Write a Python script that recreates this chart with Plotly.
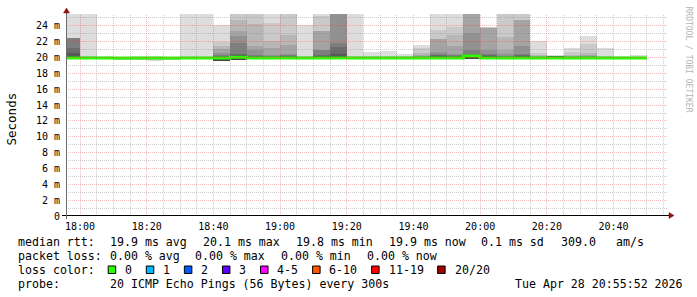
import plotly.graph_objects as go
import pandas as pd
import math

# ---------------- data ----------------
# end time of each 300 s SmokePing step
step_first_end = "2026-04-28 18:00:00"
step_seconds = 300
n_steps = 35

# median rtt per step (ms)
median_ms = [19.95, 19.95, 19.95, 19.95, 19.95, 19.95, 19.95, 19.95, 19.95, 19.95,
             20.05, 19.95, 19.95, 19.95, 19.95, 19.95, 19.95, 19.95, 19.95, 19.95,
             19.95, 19.95, 19.95, 19.95, 20.2, 19.95, 19.95, 19.95, 19.95, 19.95,
             19.95, 19.95, 19.95, 19.95, 19.95]

# upper half of the 20 sorted pings per step: p20, p19, ..., p11 (ms)
ping_hi = [
    [26.0, 22.45, 22.45, 22.45, 22.45, 22.45, 21.2, 20.6, 20.2, 20.1],
    [26.0, 20.2, 20.15, 20.1, 20.1, 20.05, 20.05, 20.0, 20.0, 19.95],
    [20.15, 20.1, 20.1, 20.05, 20.05, 20.0, 20.0, 20.0, 19.95, 19.95],
    [20.1, 20.05, 20.05, 20.0, 20.0, 20.0, 19.95, 19.95, 19.95, 19.9],
    [20.2, 20.1, 20.05, 20.05, 20.0, 20.0, 20.0, 19.95, 19.95, 19.95],
    [20.25, 20.1, 20.05, 20.05, 20.0, 20.0, 20.0, 19.95, 19.95, 19.95],
    [20.1, 20.05, 20.05, 20.0, 20.0, 20.0, 19.95, 19.95, 19.95, 19.9],
    [26.0, 20.2, 20.1, 20.1, 20.05, 20.05, 20.0, 20.0, 19.95, 19.95],
    [26.0, 20.2, 20.1, 20.1, 20.05, 20.05, 20.0, 20.0, 19.95, 19.95],
    [24.1, 22.0, 21.5, 21.05, 20.6, 20.3, 20.2, 20.15, 20.1, 20.05],
    [26.0, 26.0, 24.75, 23.4, 22.7, 21.8, 20.5, 20.3, 20.2, 20.15],
    [26.0, 26.0, 24.2, 21.5, 20.9, 20.3, 20.2, 20.15, 20.1, 20.05],
    [26.0, 24.35, 22.15, 21.15, 20.3, 20.2, 20.15, 20.1, 20.05, 20.0],
    [26.0, 26.0, 22.85, 21.55, 20.5, 20.3, 20.2, 20.15, 20.1, 20.05],
    [24.1, 20.2, 20.15, 20.1, 20.1, 20.05, 20.05, 20.0, 20.0, 19.95],
    [26.0, 25.2, 23.4, 23.4, 21.0, 21.0, 20.35, 20.25, 20.15, 20.1],
    [27.0, 27.0, 27.0, 27.0, 27.0, 21.8, 21.3, 20.4, 20.2, 20.1],
    [26.0, 20.2, 20.15, 20.1, 20.1, 20.05, 20.05, 20.0, 20.0, 19.95],
    [20.7, 20.2, 20.15, 20.1, 20.1, 20.05, 20.05, 20.0, 20.0, 19.95],
    [20.8, 20.25, 20.15, 20.1, 20.1, 20.05, 20.05, 20.0, 20.0, 19.95],
    [20.5, 20.2, 20.15, 20.1, 20.1, 20.05, 20.05, 20.0, 20.0, 19.95],
    [21.6, 21.25, 20.6, 20.3, 20.2, 20.15, 20.1, 20.1, 20.05, 20.0],
    [26.0, 23.5, 22.4, 22.3, 20.7, 20.4, 20.3, 20.2, 20.15, 20.1],
    [26.0, 23.9, 22.85, 21.4, 20.5, 20.3, 20.2, 20.15, 20.1, 20.05],
    [27.0, 27.0, 27.0, 27.0, 23.1, 21.0, 20.4, 20.3, 20.25, 20.2],
    [23.8, 23.8, 23.75, 23.7, 21.0, 20.5, 20.3, 20.2, 20.15, 20.1],
    [26.0, 26.0, 22.65, 21.0, 20.4, 20.2, 20.15, 20.1, 20.05, 20.0],
    [26.0, 26.0, 24.75, 24.7, 21.5, 20.5, 20.3, 20.2, 20.15, 20.1],
    [22.1, 20.6, 20.3, 20.2, 20.15, 20.1, 20.1, 20.05, 20.0, 20.0],
    [20.35, 20.25, 20.2, 20.2, 20.2, 20.2, 20.2, 20.15, 20.15, 20.1],
    [21.15, 20.75, 20.3, 20.2, 20.15, 20.1, 20.1, 20.05, 20.0, 20.0],
    [22.75, 21.7, 20.55, 20.3, 20.2, 20.15, 20.1, 20.1, 20.05, 20.0],
    [21.25, 20.2, 20.15, 20.1, 20.1, 20.05, 20.05, 20.0, 20.0, 19.95],
    [20.2, 20.1, 20.1, 20.05, 20.05, 20.0, 20.0, 20.0, 19.95, 19.95],
    [20.3, 20.15, 20.1, 20.05, 20.05, 20.0, 20.0, 20.0, 19.95, 19.95],
]

# lower half of the 20 sorted pings per step: p1, p2, ..., p10 (ms)
ping_lo = [
    [19.8, 19.8, 19.8, 19.85, 19.85, 19.85, 19.9, 19.9, 19.9, 19.9],
    [19.8, 19.8, 19.8, 19.85, 19.85, 19.85, 19.9, 19.9, 19.9, 19.9],
    [19.8, 19.8, 19.8, 19.85, 19.85, 19.85, 19.9, 19.9, 19.9, 19.9],
    [19.8, 19.8, 19.8, 19.85, 19.85, 19.85, 19.9, 19.9, 19.9, 19.9],
    [19.8, 19.8, 19.8, 19.85, 19.85, 19.85, 19.9, 19.9, 19.9, 19.9],
    [19.6, 19.8, 19.8, 19.85, 19.85, 19.85, 19.9, 19.9, 19.9, 19.9],
    [19.8, 19.8, 19.8, 19.85, 19.85, 19.85, 19.9, 19.9, 19.9, 19.9],
    [19.8, 19.8, 19.8, 19.85, 19.85, 19.85, 19.9, 19.9, 19.9, 19.9],
    [19.8, 19.8, 19.8, 19.85, 19.85, 19.85, 19.9, 19.9, 19.9, 19.9],
    [19.6, 19.6, 19.6, 19.6, 19.6, 19.6, 19.6, 19.6, 19.6, 19.9],
    [19.65, 19.65, 19.65, 19.65, 19.65, 19.65, 19.65, 19.65, 19.65, 19.95],
    [19.8, 19.8, 19.8, 19.85, 19.85, 19.85, 19.9, 19.9, 19.9, 19.9],
    [19.8, 19.8, 19.8, 19.85, 19.85, 19.85, 19.9, 19.9, 19.9, 19.9],
    [19.8, 19.8, 19.8, 19.85, 19.85, 19.85, 19.9, 19.9, 19.9, 19.9],
    [19.8, 19.8, 19.8, 19.85, 19.85, 19.85, 19.9, 19.9, 19.9, 19.9],
    [19.8, 19.8, 19.8, 19.85, 19.85, 19.85, 19.9, 19.9, 19.9, 19.9],
    [19.8, 19.8, 19.8, 19.85, 19.85, 19.85, 19.9, 19.9, 19.9, 19.9],
    [19.8, 19.8, 19.8, 19.85, 19.85, 19.85, 19.9, 19.9, 19.9, 19.9],
    [19.8, 19.8, 19.8, 19.85, 19.85, 19.85, 19.9, 19.9, 19.9, 19.9],
    [19.8, 19.8, 19.8, 19.85, 19.85, 19.85, 19.9, 19.9, 19.9, 19.9],
    [19.8, 19.8, 19.8, 19.85, 19.85, 19.85, 19.9, 19.9, 19.9, 19.9],
    [19.8, 19.8, 19.8, 19.85, 19.85, 19.85, 19.9, 19.9, 19.9, 19.9],
    [19.8, 19.8, 19.8, 19.85, 19.85, 19.85, 19.9, 19.9, 19.9, 19.9],
    [19.8, 19.8, 19.8, 19.85, 19.85, 19.85, 19.9, 19.9, 19.9, 19.9],
    [19.8, 19.8, 19.8, 19.8, 19.8, 19.8, 19.8, 19.8, 19.8, 20.1],
    [19.8, 19.8, 19.8, 19.85, 19.85, 19.85, 19.9, 19.9, 19.9, 19.9],
    [19.8, 19.8, 19.8, 19.85, 19.85, 19.85, 19.9, 19.9, 19.9, 19.9],
    [19.8, 19.8, 19.8, 19.85, 19.85, 19.85, 19.9, 19.9, 19.9, 19.9],
    [19.8, 19.8, 19.8, 19.85, 19.85, 19.85, 19.9, 19.9, 19.9, 19.9],
    [19.8, 19.8, 19.8, 19.85, 19.85, 19.85, 19.9, 19.9, 19.9, 19.9],
    [19.8, 19.8, 19.8, 19.85, 19.85, 19.85, 19.9, 19.9, 19.9, 19.9],
    [19.8, 19.8, 19.8, 19.85, 19.85, 19.85, 19.9, 19.9, 19.9, 19.9],
    [19.8, 19.8, 19.8, 19.85, 19.85, 19.85, 19.9, 19.9, 19.9, 19.9],
    [19.8, 19.8, 19.8, 19.85, 19.85, 19.85, 19.9, 19.9, 19.9, 19.9],
    [19.8, 19.8, 19.8, 19.85, 19.85, 19.85, 19.9, 19.9, 19.9, 19.9],
]

y_tick_vals = [0, 2, 4, 6, 8, 10, 12, 14, 16, 18, 20, 22, 24]
x_tick_labels = ["18:00", "18:20", "18:40", "19:00", "19:20", "19:40", "20:00", "20:20", "20:40"]

loss_labels = ["0", "1", "2", "3", "4-5", "6-10", "11-19", "20/20"]
loss_colors = ["#26ff00", "#00b8ff", "#0059ff", "#5e00ff", "#ff00ff", "#ff5500", "#ff0000", "#a00000"]

# legend items: (text, left pixel) per row
legend_rows = [
    [("median rtt:", 16), ("19.9 ms avg", 107.7), ("20.1 ms max", 201), ("19.8 ms min", 294),
     ("19.9 ms now", 386.7), ("0.1 ms sd", 479.3), ("309.0", 558.7), ("am/s", 614.3)],
    [("packet loss:", 16), ("0.00 % avg", 107.7), ("0.00 % max", 193.3), ("0.00 % min", 279.3),
     ("0.00 % now", 365)],
    [("loss color:", 16)],
    [("probe:", 16), ("20 ICMP Echo Pings (56 Bytes) every 300s", 107.7),
     ("Tue Apr 28 20:55:52 2026", 513.3)],
]
y_title = "Seconds"
side_text = "RRDTOOL / TOBI OETIKER"

# ---------------- layout geometry ----------------
FIG_W, FIG_H = 697, 297
L, T, W, H = 66, 14, 602, 202
X0 = pd.Timestamp("2026-04-28 17:55:48")
X1 = pd.Timestamp("2026-04-28 20:56:20")
Y0, Y1 = 0.0, 25.5
MONO = "DejaVu Sans Mono"
LEG_SIZE = 11.6
CW = LEG_SIZE * 0.602


def px(x):
    return (x - L) / W


def py(y):
    return (T + H - y) / H


def snap_y(v):
    yp = (Y1 - v) / (Y1 - Y0) * H
    yp = math.floor(yp) + 0.5
    return Y1 - yp * (Y1 - Y0) / H


def snap_x(t):
    span = (X1 - X0).total_seconds()
    xp = (t - X0).total_seconds() / span * W
    xp = math.floor(xp) + 0.5
    return X0 + pd.Timedelta(seconds=xp * span / W)


ends = pd.date_range(step_first_end, periods=n_steps, freq=f"{step_seconds}s")
centers = ends - pd.Timedelta(seconds=step_seconds / 2)
starts = ends - pd.Timedelta(seconds=step_seconds)

fig = go.Figure()

# smoke: pair k spans ping k .. ping 21-k, inner pairs darker
for k in range(10):
    shade = int(190 / 10 * (10 - (k + 1))) + 50
    col = "#" + ("%02x" % shade) * 3
    base = [ping_lo[c][k] for c in range(n_steps)]
    height = [ping_hi[c][k] - ping_lo[c][k] for c in range(n_steps)]
    fig.add_trace(go.Bar(x=centers, y=height, base=base, width=step_seconds * 1000,
                         marker=dict(color=col, line=dict(width=0)),
                         showlegend=False, hoverinfo="skip"))

# median line
fig.add_trace(go.Scatter(x=list(starts) + [ends[-1]], y=median_ms + [median_ms[-1]],
                         mode="lines", line=dict(color=loss_colors[0], width=3, shape="hv"),
                         showlegend=False, hoverinfo="skip"))

MAJ = "rgba(215,50,50,0.32)"
MIN = "rgba(130,130,130,0.40)"
shapes = []
# grid (drawn above the data like rrdtool)
for v in range(1, 26):
    major = v % 2 == 0
    yv = snap_y(v)
    shapes.append(dict(type="line", xref="paper", yref="y", x0=0, x1=1, y0=yv, y1=yv,
                       layer="above",
                       line=dict(color=MAJ if major else MIN, width=1, dash="1px,1px")))
grid_times = pd.date_range("2026-04-28 18:00:00", "2026-04-28 20:55:00", freq="5min")
for t in grid_times:
    major = t.minute % 20 == 0
    xv = snap_x(t)
    shapes.append(dict(type="line", xref="x", yref="paper", x0=xv, x1=xv, y0=0, y1=1,
                       layer="above",
                       line=dict(color=MAJ if major else MIN, width=1, dash="1px,1px")))

# axes lines and arrows
shapes.append(dict(type="line", xref="paper", yref="paper", x0=px(62), x1=px(670),
                   y0=py(215.5), y1=py(215.5), layer="above", line=dict(color="#000000", width=1)))
shapes.append(dict(type="line", xref="paper", yref="paper", x0=px(66.5), x1=px(66.5),
                   y0=py(219), y1=py(12), layer="above", line=dict(color="#6a6a6a", width=1)))
arrow_col = "#8b1010"
shapes.append(dict(type="path", xref="paper", yref="paper", layer="above",
                   path=f"M {px(669)} {py(212.5)} L {px(674)} {py(215.5)} L {px(669)} {py(218.5)} Z",
                   fillcolor=arrow_col, line=dict(color=arrow_col, width=0.5)))
shapes.append(dict(type="path", xref="paper", yref="paper", layer="above",
                   path=f"M {px(63.5)} {py(13)} L {px(66.5)} {py(8)} L {px(69.5)} {py(13)} Z",
                   fillcolor=arrow_col, line=dict(color=arrow_col, width=0.5)))

annotations = []


def nb(s):
    return s.replace(" ", "\u00a0")


row_y = [241.7, 255.7, 269.5, 283.5]
for items, yy in zip(legend_rows, row_y):
    for txt, xx in items:
        annotations.append(dict(text=nb(txt), xref="paper", yref="paper", x=px(xx), y=py(yy),
                                xanchor="left", yanchor="middle", showarrow=False,
                                font=dict(family=MONO, size=LEG_SIZE, color="#000000")))

sx = 107.7
for lab, col in zip(loss_labels, loss_colors):
    shapes.append(dict(type="rect", xref="paper", yref="paper", x0=px(sx + 0.5), x1=px(sx + 8),
                       y0=py(266), y1=py(273.5), fillcolor=col, layer="above",
                       line=dict(color="#000000", width=1)))
    lx = sx + 15.4
    annotations.append(dict(text=nb(lab), xref="paper", yref="paper", x=px(lx), y=py(row_y[2]),
                            xanchor="left", yanchor="middle", showarrow=False,
                            font=dict(family=MONO, size=LEG_SIZE, color="#000000")))
    sx = lx + len(lab) * CW + 15.7

annotations.append(dict(text=y_title, xref="paper", yref="paper", x=px(10.5), y=py(119),
                        xanchor="center", yanchor="middle", showarrow=False, textangle=-90,
                        font=dict(family=MONO, size=12.5, color="#000000")))
annotations.append(dict(text=nb(side_text), xref="paper", yref="paper", x=px(687.5), y=py(59),
                        xanchor="center", yanchor="middle", showarrow=False, textangle=90,
                        font=dict(family=MONO, size=8, color="#b4b4b4")))

x_tick_vals = [pd.Timestamp("2026-04-28 " + s) for s in x_tick_labels]
y_tick_text = [f"{v} m" if v else "0" for v in y_tick_vals]

fig.update_layout(
    width=FIG_W, height=FIG_H, autosize=False,
    margin=dict(l=L, r=FIG_W - L - W, t=T, b=FIG_H - T - H, pad=0),
    paper_bgcolor="#ffffff", plot_bgcolor="#ffffff",
    barmode="overlay", bargap=0, showlegend=False,
    shapes=shapes, annotations=annotations,
    xaxis=dict(type="date", range=[X0, X1], showgrid=False, zeroline=False, showline=False,
               tickvals=x_tick_vals, ticktext=x_tick_labels, ticks="", ticklabelstandoff=3,
               tickfont=dict(family=MONO, size=10, color="#000000"), automargin=False,
               fixedrange=True),
    yaxis=dict(range=[Y0, Y1], showgrid=False, zeroline=False, showline=False,
               tickvals=y_tick_vals, ticktext=y_tick_text, ticks="", ticklabelstandoff=5,
               tickfont=dict(family=MONO, size=10, color="#000000"), automargin=False,
               fixedrange=True),
)

fig.write_html("out.html")
